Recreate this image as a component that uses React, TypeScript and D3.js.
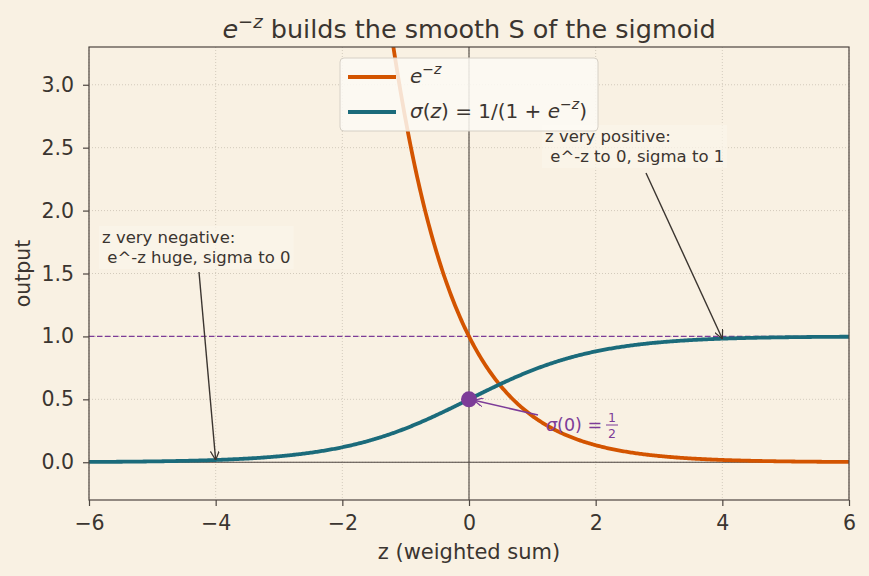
import React, { useEffect, useRef } from 'react'
import * as d3 from 'd3'

const xTicks = [-6, -4, -2, 0, 2, 4, 6]
const yTicks = [0, 0.5, 1, 1.5, 2, 2.5, 3]
const zGrid = d3.range(-6, 6.0001, 0.02)
const expCurve = zGrid.map(z => ({ z, v: Math.exp(-z) }))
const sigCurve = zGrid.map(z => ({ z, v: 1 / (1 + Math.exp(-z)) }))

const W = 869
const H = 576
const M = { top: 47, right: 20, bottom: 76, left: 89 }
const BG = '#f9f1e3'
const INK = '#3b3530'
const ORANGE = '#d35400'
const TEAL = '#1b6b7b'
const PURPLE = '#7d3c98'
const FONT = 'DejaVu Sans, sans-serif'

const App = () => {
  const svgRef = useRef<SVGSVGElement>(null)

  useEffect(() => {
    document.body.style.margin = '0'
    document.body.style.background = BG
    const svg = d3.select(svgRef.current)
    svg.selectAll('*').remove()
    const iw = W - M.left - M.right
    const ih = H - M.top - M.bottom

    const x = d3.scaleLinear().domain([-6, 6]).range([M.left, M.left + iw])
    const y = d3.scaleLinear().domain([-0.3, 3.3]).range([M.top + ih, M.top])

    svg.append('rect').attr('width', W).attr('height', H).attr('fill', BG)

    const defs = svg.append('defs')
    defs.append('clipPath').attr('id', 'plot')
      .append('rect').attr('x', M.left).attr('y', M.top).attr('width', iw).attr('height', ih)
    const mk = (id, col) => defs.append('marker').attr('id', id)
      .attr('viewBox', '0 0 10 10').attr('refX', 10).attr('refY', 5)
      .attr('markerWidth', 9).attr('markerHeight', 9).attr('orient', 'auto')
      .attr('markerUnits', 'userSpaceOnUse')
      .append('path').attr('d', 'M0,0 L10,5 L0,10').attr('fill', 'none')
      .attr('stroke', col).attr('stroke-width', 1.4)
    mk('arrDark', INK)
    mk('arrPurple', PURPLE)

    // grid
    const grid = svg.append('g').attr('stroke', '#c9c1b3').attr('stroke-width', 0.8)
      .attr('stroke-dasharray', '1,2')
    xTicks.forEach(t => grid.append('line').attr('x1', x(t)).attr('x2', x(t))
      .attr('y1', M.top).attr('y2', M.top + ih))
    yTicks.forEach(t => grid.append('line').attr('y1', y(t)).attr('y2', y(t))
      .attr('x1', M.left).attr('x2', M.left + iw))

    // zero lines
    svg.append('line').attr('x1', x(0)).attr('x2', x(0)).attr('y1', M.top).attr('y2', M.top + ih)
      .attr('stroke', '#4d4540').attr('stroke-width', 1.1)
    svg.append('line').attr('x1', M.left).attr('x2', M.left + iw).attr('y1', y(0)).attr('y2', y(0))
      .attr('stroke', '#4d4540').attr('stroke-width', 1.1)

    // asymptote
    svg.append('line').attr('x1', M.left).attr('x2', M.left + iw).attr('y1', y(1)).attr('y2', y(1))
      .attr('stroke', PURPLE).attr('stroke-width', 1.4).attr('stroke-dasharray', '5.5,2.5')

    const line = d3.line().x(d => x(d.z)).y(d => y(d.v))
    const plot = svg.append('g').attr('clip-path', 'url(#plot)')
    plot.append('path').datum(expCurve).attr('d', line).attr('fill', 'none')
      .attr('stroke', ORANGE).attr('stroke-width', 3.8)
    plot.append('path').datum(sigCurve).attr('d', line).attr('fill', 'none')
      .attr('stroke', TEAL).attr('stroke-width', 3.8)

    svg.append('circle').attr('cx', x(0)).attr('cy', y(0.5)).attr('r', 8).attr('fill', PURPLE)

    // axes
    const xAxis = d3.axisBottom(x).tickValues(xTicks).tickSize(6).tickPadding(9)
      .tickFormat(d => d3.format('d')(d).replace('-', '\u2212'))
    const yAxis = d3.axisLeft(y).tickValues(yTicks).tickSize(6).tickPadding(9)
      .tickFormat(d3.format('.1f'))
    const gx = svg.append('g').attr('transform', `translate(0,${M.top + ih})`).call(xAxis)
    const gy = svg.append('g').attr('transform', `translate(${M.left},0)`).call(yAxis)
    ;[gx, gy].forEach(g => {
      g.select('.domain').remove()
      g.selectAll('line').attr('stroke', '#4d4540').attr('stroke-width', 1.2)
      g.selectAll('text').attr('fill', INK).style('font-family', FONT).style('font-size', '20.5px')
    })
    svg.append('rect').attr('x', M.left).attr('y', M.top).attr('width', iw).attr('height', ih)
      .attr('fill', 'none').attr('stroke', '#4d4540').attr('stroke-width', 1.2)

    svg.append('text').attr('x', M.left + iw / 2).attr('y', 559).attr('text-anchor', 'middle')
      .attr('fill', INK).style('font-family', FONT).style('font-size', '21px').text('z (weighted sum)')
    svg.append('text').attr('transform', `translate(30,${M.top + ih / 2}) rotate(-90)`)
      .attr('text-anchor', 'middle').attr('fill', INK).style('font-family', FONT)
      .style('font-size', '20.5px').text('output')

    // title
    const title = svg.append('text').attr('x', M.left + iw / 2).attr('y', 38).attr('text-anchor', 'middle')
      .attr('fill', INK).style('font-family', FONT).style('font-size', '25.5px')
    title.append('tspan').attr('font-style', 'italic').text('e')
    title.append('tspan').attr('dy', -10).style('font-size', '18px').text('\u2212')
    title.append('tspan').attr('font-style', 'italic').style('font-size', '18px').text('z')
    title.append('tspan').attr('dy', 10).text(' builds the smooth S of the sigmoid')

    // annotations
    const note = (tx, ty, lines, from, to) => {
      const g = svg.append('g')
      const t = g.append('text').attr('fill', INK).style('font-family', FONT).style('font-size', '16.5px')
      lines.forEach((l, i) => t.append('tspan').attr('x', tx).attr('y', ty + i * 20).text(l))
      const bb = (t.node() as SVGTextElement).getBBox()
      g.insert('rect', 'text').attr('x', bb.x - 3).attr('y', bb.y - 2).attr('width', bb.width + 6)
        .attr('height', bb.height + 4).attr('fill', '#fbf5ea').attr('opacity', 0.7)
      svg.append('line').attr('x1', from[0]).attr('y1', from[1]).attr('x2', x(to[0])).attr('y2', y(to[1]))
        .attr('stroke', INK).attr('stroke-width', 1.4).attr('marker-end', 'url(#arrDark)')
    }
    note(102, 243, ['z very negative:', ' e^-z huge, sigma to 0'], [199, 272], [-4, 1 / (1 + Math.exp(4))])
    note(545, 142, ['z very positive:', ' e^-z to 0, sigma to 1'], [646, 173], [4, 1 / (1 + Math.exp(-4))])

    svg.append('line').attr('x1', 538).attr('y1', 415).attr('x2', x(0) + 5).attr('y2', y(0.5) + 1)
      .attr('stroke', PURPLE).attr('stroke-width', 1.5).attr('marker-end', 'url(#arrPurple)')
    const s = svg.append('text').attr('x', 546).attr('y', 431).attr('fill', PURPLE)
      .style('font-family', FONT).style('font-size', '17.5px')
    s.append('tspan').attr('font-style', 'italic').text('\u03c3')
    s.append('tspan').text('(0) = ')
    svg.append('text').attr('x', 612).attr('y', 422).attr('text-anchor', 'middle').attr('fill', PURPLE)
      .style('font-family', FONT).style('font-size', '12.5px').text('1')
    svg.append('line').attr('x1', 606).attr('x2', 618).attr('y1', 425).attr('y2', 425)
      .attr('stroke', PURPLE).attr('stroke-width', 1)
    svg.append('text').attr('x', 612).attr('y', 438).attr('text-anchor', 'middle').attr('fill', PURPLE)
      .style('font-family', FONT).style('font-size', '12.5px').text('2')

    // legend
    const lg = svg.append('g').attr('transform', 'translate(340,58)')
    lg.append('rect').attr('width', 258).attr('height', 73).attr('rx', 4)
      .attr('fill', '#fdfaf4').attr('fill-opacity', 0.85).attr('stroke', '#d6d0c6').attr('stroke-width', 1)
    const items = [{ col: ORANGE, k: 'exp' }, { col: TEAL, k: 'sig' }]
    items.forEach((it, i) => {
      const cy = 19 + i * 35
      lg.append('line').attr('x1', 8).attr('x2', 56).attr('y1', cy).attr('y2', cy)
        .attr('stroke', it.col).attr('stroke-width', 3.8)
      const t = lg.append('text').attr('x', 70).attr('y', cy + 6).attr('fill', INK)
        .style('font-family', FONT).style('font-size', '20px')
      if (it.k === 'exp') {
        t.append('tspan').attr('font-style', 'italic').text('e')
        t.append('tspan').attr('dy', -9).style('font-size', '14px').text('\u2212')
        t.append('tspan').attr('font-style', 'italic').style('font-size', '14px').text('z')
      } else {
        t.append('tspan').attr('font-style', 'italic').text('\u03c3')
        t.append('tspan').text('(')
        t.append('tspan').attr('font-style', 'italic').text('z')
        t.append('tspan').text(') = 1/(1 + ')
        t.append('tspan').attr('font-style', 'italic').text('e')
        t.append('tspan').attr('dy', -9).style('font-size', '14px').text('\u2212')
        t.append('tspan').attr('font-style', 'italic').style('font-size', '14px').text('z')
        t.append('tspan').attr('dy', 9).text(')')
      }
    })
  }, [])

  return <svg ref={svgRef} width={W} height={H} style={{ display: 'block' }} />
}

export default App
